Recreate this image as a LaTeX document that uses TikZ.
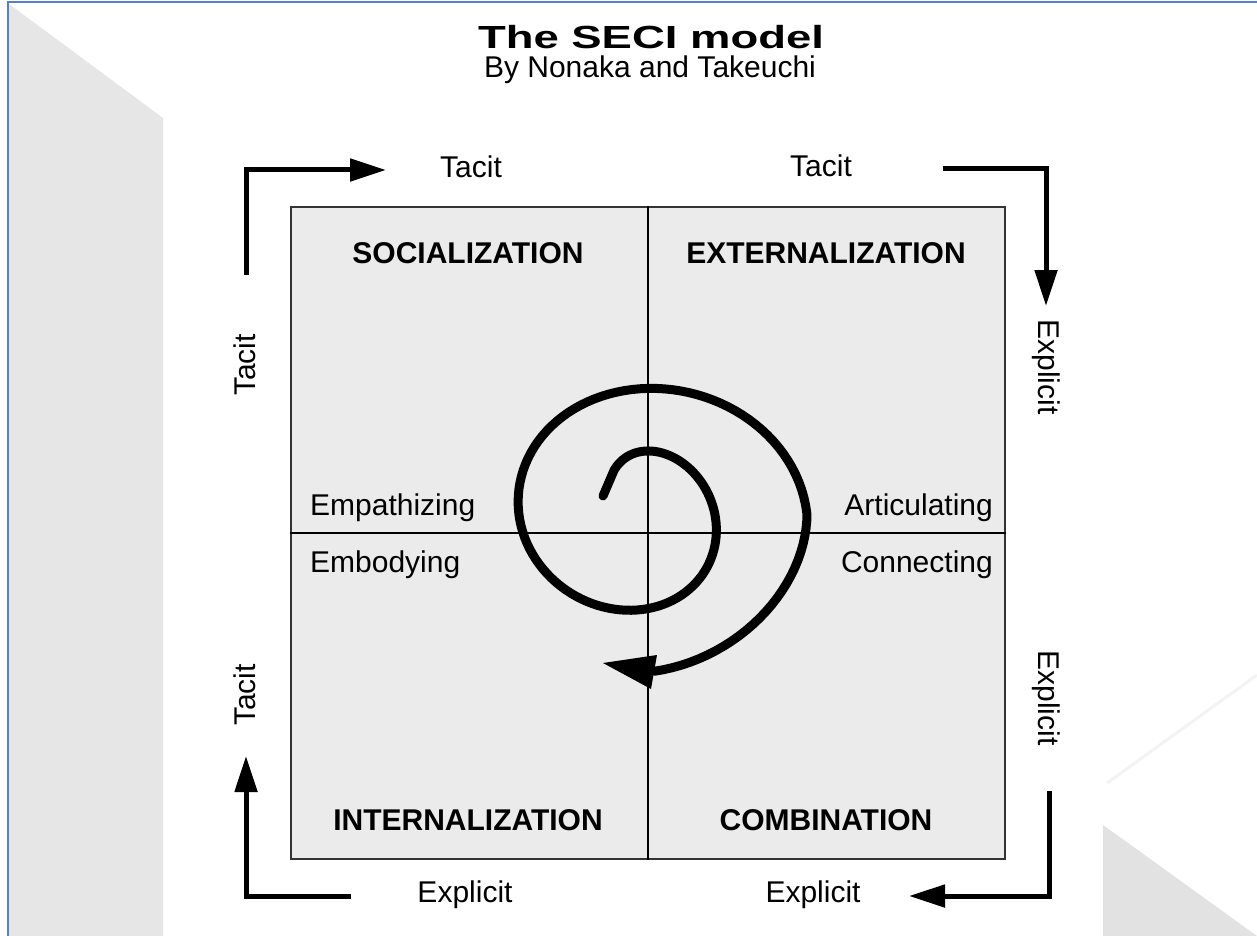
\documentclass[tikz,border=0pt]{standalone}
\usepackage{fontspec}
\setmainfont{Liberation Sans}
\usetikzlibrary{arrows.meta}
\definecolor{frameblue}{RGB}{84,130,200}
\definecolor{panelgray}{RGB}{235,235,235}
\definecolor{bggray}{RGB}{230,230,230}
\definecolor{trigray}{RGB}{226,226,226}
\definecolor{faintline}{RGB}{243,243,243}
\begin{document}
\begin{tikzpicture}[x=1pt,y=-1pt,
  txt/.style={font=\fontsize{30}{36}\selectfont, inner sep=0pt},
  lbl/.style={font=\fontsize{30}{36}\selectfont\bfseries, inner sep=0pt},
  flow/.style={line width=5pt, -{Triangle[length=36pt,width=22pt]}},
  spiral/.style={line width=9pt, line cap=round, line join=round},
]
\useasboundingbox (0,0) rectangle (1257,936);
\fill[white] (0,0) rectangle (1257,936);
% background decoration
\fill[bggray] (9,4) -- (163,118) -- (163,936) -- (9,936) -- cycle;
\fill[trigray] (1103,825) -- (1257,936) -- (1103,936) -- cycle;
\draw[faintline, line width=3pt] (1107,783) -- (1257,675);
\draw[frameblue, line width=2pt] (8,936) -- (8,2) -- (1257,2);

% title
\node[font=\fontsize{32}{38}\selectfont\bfseries, inner sep=0pt, anchor=base] (title) at (651,49) {\scalebox{1.42}[1]{The SECI model}};
\node[txt, anchor=base] (subtitle) at (650,78) {By Nonaka and Takeuchi};

% main square
\node[draw=black!80, fill=panelgray, line width=1.5pt, minimum width=714pt, minimum height=652pt, inner sep=0pt, anchor=north west] (square) at (290,206) {};
\draw[line width=1.6pt] (square.north) -- (square.south);
\draw[line width=1.6pt] (square.west) -- (square.east);

% quadrant labels
\node[lbl, anchor=base] (soc) at (468,263) {SOCIALIZATION};
\node[lbl, anchor=base] (ext) at (826,263) {EXTERNALIZATION};
\node[lbl, anchor=base] (int) at (468,830) {INTERNALIZATION};
\node[lbl, anchor=base] (com) at (826,830) {COMBINATION};

\node[txt, anchor=base west] (emp) at (310,515) {Empathizing};
\node[txt, anchor=base west] (emb) at (310,572) {Embodying};
\node[txt, anchor=base east] (art) at (993,515) {Articulating};
\node[txt, anchor=base east] (con) at (993,572) {Connecting};

% outer labels
\node[txt, anchor=base] (tacitTL) at (471,178) {Tacit};
\node[txt, anchor=base] (tacitTR) at (821,177) {Tacit};
\node[txt, anchor=base, rotate=90] (tacitL1) at (255,365) {Tacit};
\node[txt, anchor=base, rotate=90] (tacitL2) at (255,695) {Tacit};
\node[txt, anchor=base, rotate=-90] (explR1) at (1038,367) {Explicit};
\node[txt, anchor=base, rotate=-90] (explR2) at (1038,698) {Explicit};
\node[txt, anchor=base] (explBL) at (465,902) {Explicit};
\node[txt, anchor=base] (explBR) at (813,902) {Explicit};

% corner arrows
\coordinate (tlA) at (246,275); \coordinate (tlB) at (246,170); \coordinate (tlC) at (386,170);
\draw[flow] (tlA) -- (tlB) -- (tlC);
\coordinate (trA) at (943,169); \coordinate (trB) at (1046,169); \coordinate (trC) at (1046,306);
\draw[flow] (trA) -- (trB) -- (trC);
\coordinate (brA) at (1049,791); \coordinate (brB) at (1049,896); \coordinate (brC) at (909,896);
\draw[flow] (brA) -- (brB) -- (brC);
\coordinate (blA) at (351,896); \coordinate (blB) at (246,896); \coordinate (blC) at (246,756);
\draw[flow] (blA) -- (blB) -- (blC);

% spiral
\coordinate (spStart) at (603,496);
\draw[spiral] (spStart) -- plot[domain=-128:445, samples=181, variable=\t]
  ({640+(75+0.2556*\t-0.3*max(0,\t-360))*cos(\t)}, {515+(79+0.175*\t)*sin(\t)});
\fill (603,663) -- (657,655) -- (651,689) -- cycle;
\end{tikzpicture}
\end{document}
